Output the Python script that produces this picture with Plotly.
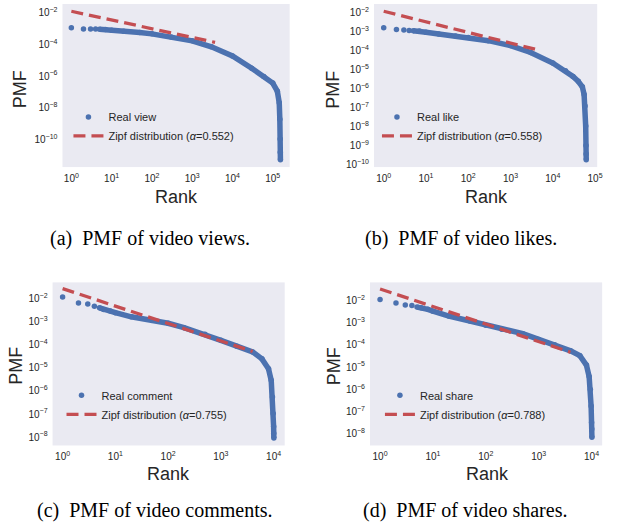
import plotly.graph_objects as go

# ---- data: rank vs. probability mass for each engagement metric ----
ranks_view = [1, 2, 3, 4, 5, 7, 10, 20, 50, 100, 300, 1000, 3000, 10000, 30000,
              60000, 100000, 130000, 145000, 150000, 153000, 154000, 155000]
pmf_view = [1.15e-3, 9.55e-4, 9.55e-4, 9.55e-4, 9.12e-4, 8.71e-4, 7.94e-4, 6.76e-4,
            5.62e-4, 4.68e-4, 3.02e-4, 1.70e-4, 7.08e-5, 1.86e-5, 3.16e-6, 9.55e-7,
            3.63e-7, 1.10e-7, 2.04e-8, 1.86e-9, 1.05e-10, 1.55e-11, 5.13e-12]

ranks_like = [1, 2, 3, 4, 5, 7, 10, 20, 50, 100, 300, 1000, 3000, 10000, 20000, 30000,
              40000, 50000, 55000, 58000, 60000, 61000, 61500, 61800]
pmf_like = [1.58e-3, 1.29e-3, 1.20e-3, 1.15e-3, 1.10e-3, 1.07e-3, 9.12e-4, 7.41e-4,
            5.89e-4, 4.79e-4, 3.31e-4, 1.82e-4, 7.94e-5, 2.19e-5, 8.71e-6, 4.37e-6,
            2.40e-6, 1.23e-6, 4.90e-7, 1.20e-7, 1.07e-8, 1.00e-9, 3.55e-10, 1.78e-10]

ranks_comment = [1, 2, 3, 4, 5, 6, 8, 10, 20, 50, 100, 200, 500, 1000, 2000, 4000,
                 6000, 8000, 9000, 9500, 9800, 10000, 10050, 10100]
pmf_comment = [1.17e-2, 6.46e-3, 5.89e-3, 4.68e-3, 3.98e-3, 3.39e-3, 2.88e-3, 2.45e-3,
               1.62e-3, 1.17e-3, 8.51e-4, 5.50e-4, 2.88e-4, 1.55e-4, 8.71e-5, 4.90e-5,
               2.45e-5, 9.12e-6, 2.88e-6, 5.50e-7, 1.07e-7, 2.88e-8, 1.48e-8, 9.12e-9]

ranks_share = [1, 2, 3, 4, 5, 6, 8, 10, 20, 50, 100, 200, 500, 1000, 2000, 4000,
               6000, 8000, 9000, 9500, 9800, 10000, 10100, 10150]
pmf_share = [1.07e-2, 7.59e-3, 6.03e-3, 5.75e-3, 4.90e-3, 4.57e-3, 3.89e-3, 3.24e-3,
             1.95e-3, 1.17e-3, 7.59e-4, 5.01e-4, 3.16e-4, 1.74e-4, 1.00e-4, 5.37e-5,
             3.24e-5, 1.23e-5, 3.72e-6, 9.77e-7, 1.78e-7, 3.24e-8, 1.66e-8, 7.08e-9]

# fitted Zipf laws: exponent, value at rank 1, last rank drawn
zipf_alpha = [0.552, 0.558, 0.755, 0.788]
zipf_c = [1.26e-2, 1.17e-2, 2.69e-2, 3.2e-2]
zipf_last_rank = [3700, 5200, 4000, 4000]

series_names = ["Real view", "Real like", "Real comment", "Real share"]
captions = ["(a)  PMF of video views.", "(b)  PMF of video likes.",
            "(c)  PMF of video comments.", "(d)  PMF of video shares."]

# tick labels
x_exp = [[0, 1, 2, 3, 4, 5], [0, 1, 2, 3, 4, 5], [0, 1, 2, 3, 4], [0, 1, 2, 3, 4]]
y_exp = [[-2, -4, -6, -8, -10],
         [-2, -3, -4, -5, -6, -7, -8, -9, -10],
         [-2, -3, -4, -5, -6, -7, -8],
         [-2, -3, -4, -5, -6, -7, -8]]

# ---- layout geometry (pixels) ----
W, H = 625, 531
panels = [
    dict(x0=63, x1=292, y0=4, y1=168, xr=[-0.22, 5.42], yr=[-11.75, -1.44]),
    dict(x0=377, x1=602, y0=4, y1=168, xr=[-0.23, 5.05], yr=[-10.13, -1.55]),
    dict(x0=53, x1=287, y0=284, y1=448, xr=[-0.19, 4.21], yr=[-8.36, -1.30]),
    dict(x0=373, x1=607, y0=284, y1=448, xr=[-0.19, 4.20], yr=[-8.52, -1.20]),
]
legend_pos = [(69, 103), (380, 103), (62, 383), (383, 383)]
pmf_title_pos = [(21, 90), (336, 90), (16, 368), (337, 368)]
rank_title_pos = [(178, 198), (490, 198), (170, 477), (491, 477)]
caption_pos = [(151, 240), (465, 240), (156, 513), (469, 513)]

BLUE = "#4C72B0"
RED = "#C44E52"
BG = "#EAEAF2"
TXT = "#262626"

data = [(ranks_view, pmf_view), (ranks_like, pmf_like),
        (ranks_comment, pmf_comment), (ranks_share, pmf_share)]


def px_x(p):
    return p / W


def px_y(p):
    return 1 - p / H


def sup(e):
    s = str(e).replace("-", "\u2212")
    return f"10<sup>{s}</sup>"


def label(text, pos, size, family, color, angle=0):
    return dict(text=text, x=px_x(pos[0]), y=px_y(pos[1]), xref="paper", yref="paper",
                xanchor="center", yanchor="middle", showarrow=False, textangle=angle,
                font=dict(family=family, size=size, color=color))


fig = go.Figure()
layout = dict(width=W, height=H, margin=dict(l=0, r=0, t=0, b=0),
              paper_bgcolor="white", plot_bgcolor=BG, annotations=[])

for i, (ranks, pmf) in enumerate(data):
    n = "" if i == 0 else str(i + 1)
    xa, ya = "x" + n, "y" + n
    leg = "legend" + n
    p = panels[i]

    # dense part of the ranked points drawn as a thick band
    band_r = [r for r in ranks if r >= 5]
    band_p = [v for r, v in zip(ranks, pmf) if r >= 5]
    fig.add_trace(go.Scatter(x=band_r, y=band_p, mode="lines",
                             line=dict(color=BLUE, width=5.5), showlegend=False,
                             hoverinfo="skip", xaxis=xa, yaxis=ya))
    fig.add_trace(go.Scatter(x=ranks, y=pmf, mode="markers", name=series_names[i],
                             marker=dict(color=BLUE, size=5.5), legend=leg,
                             xaxis=xa, yaxis=ya))

    # Zipf fit line
    a, c, rl = zipf_alpha[i], zipf_c[i], zipf_last_rank[i]
    fig.add_trace(go.Scatter(x=[1, rl], y=[c, c * rl ** (-a)], mode="lines",
                             name=f"Zipf distribution (<i>\u03b1</i>={a})",
                             line=dict(color=RED, width=3.3, dash="12px,6px"),
                             legend=leg, xaxis=xa, yaxis=ya))

    tickfont = dict(family="Liberation Sans", size=10, color=TXT)
    layout["xaxis" + n] = dict(type="log", range=p["xr"], anchor=ya,
                               domain=[px_x(p["x0"]), px_x(p["x1"])],
                               tickvals=[10 ** e for e in x_exp[i]],
                               ticktext=[sup(e) for e in x_exp[i]],
                               showgrid=False, zeroline=False, showline=False,
                               ticks="", ticklabelstandoff=4, tickfont=tickfont)
    layout["yaxis" + n] = dict(type="log", range=p["yr"], anchor=xa,
                               domain=[px_y(p["y1"]), px_y(p["y0"])],
                               tickvals=[10.0 ** e for e in y_exp[i]],
                               ticktext=[sup(e) for e in y_exp[i]],
                               showgrid=False, zeroline=False, showline=False,
                               ticks="", ticklabelstandoff=4, tickfont=tickfont)

    lx, ly = legend_pos[i]
    layout[leg] = dict(x=px_x(lx), y=px_y(ly), xanchor="left", yanchor="top",
                       bgcolor="rgba(0,0,0,0)", borderwidth=0,
                       font=dict(family="Liberation Sans", size=11, color=TXT),
                       itemsizing="trace", tracegroupgap=0)

    layout["annotations"] += [
        label("PMF", pmf_title_pos[i], 18, "Liberation Sans", TXT, angle=-90),
        label("Rank", rank_title_pos[i], 18, "Liberation Sans", TXT),
        label(captions[i], caption_pos[i], 20, "Liberation Serif", "black"),
    ]

fig.update_layout(**layout)
fig.write_html("out.html")
